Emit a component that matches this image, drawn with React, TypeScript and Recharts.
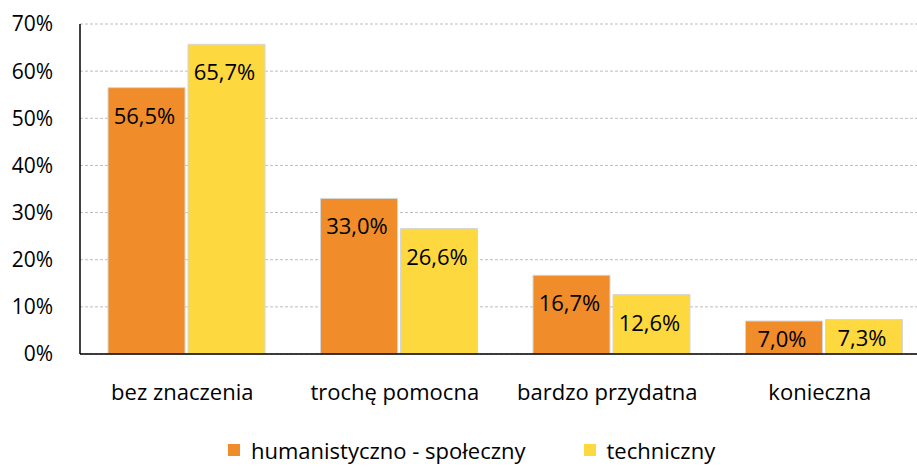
import { BarChart, Bar, XAxis, YAxis, CartesianGrid, Legend, LabelList } from 'recharts';

// Values
const categories = ['bez znaczenia', 'trochę pomocna', 'bardzo przydatna', 'konieczna'];
const humanistyczno = [56.5, 33.0, 16.7, 7.0];
const techniczny = [65.7, 26.6, 12.6, 7.3];
const yTicks = [0, 10, 20, 30, 40, 50, 60, 70];

const seriesNames = ['humanistyczno - społeczny', 'techniczny'];
const colors = ['#F08C2A', '#FDD93F'];

const data = categories.map((name, i) => ({
  name,
  hum: humanistyczno[i],
  tech: techniczny[i],
}));

const FONT = '"Open Sans", sans-serif';

const fmt = (v: number) => v.toFixed(1).replace('.', ',') + '%';

const BarLabel = (props: any) => {
  const { x, y, width, height, value } = props;
  const cy = y + Math.min(27, height / 2);
  return (
    <text
      x={x + width / 2 - 2}
      y={cy}
      textAnchor="middle"
      dominantBaseline="central"
      fontSize={22}
      fontFamily={FONT}
      fill="#000"
    >
      {fmt(value)}
    </text>
  );
};

const LegendContent = () => (
  <div style={{ display: 'flex', alignItems: 'center', paddingLeft: 228, fontFamily: FONT, fontSize: 22, lineHeight: '26px', color: '#000' }}>
    {seriesNames.map((n, i) => (
      <div key={n} style={{ display: 'flex', alignItems: 'center', marginRight: 58 }}>
        <span style={{ display: 'inline-block', width: 12, height: 12, background: colors[i], marginRight: 11 }} />
        <span>{n}</span>
      </div>
    ))}
  </div>
);

const App = () => {
  return (
    <div style={{ position: 'absolute', left: 0, top: 0, width: 917, height: 467, overflow: 'hidden', background: '#fff' }}>
      <BarChart
        width={930}
        height={467}
        data={data}
        margin={{ top: 24, right: 0, left: 0, bottom: 0 }}
        barGap={3}
        barSize={77}
      >
        <CartesianGrid vertical={false} stroke="#bdbdbd" strokeDasharray="3 2" />
        <XAxis
          dataKey="name"
          height={83}
          tickLine={false}
          tickSize={0}
          tickMargin={30}
          axisLine={{ stroke: '#000', strokeWidth: 1.5 }}
          tick={{ fontSize: 22, fill: '#000', fontFamily: FONT, dx: -4 }}
        />
        <YAxis
          width={80}
          domain={[0, 70]}
          ticks={yTicks}
          interval={0}
          tickFormatter={(v: number) => v + '%'}
          tickLine={false}
          tickSize={0}
          tickMargin={27}
          axisLine={{ stroke: '#000', strokeWidth: 1.5 }}
          tick={{ fontSize: 21, fill: '#000', fontFamily: FONT }}
        />
        <Legend verticalAlign="bottom" height={30} content={<LegendContent />} wrapperStyle={{ left: 0, width: 917 }} />
        <Bar dataKey="hum" name={seriesNames[0]} fill={colors[0]} stroke="#d6d6d6" strokeWidth={1} isAnimationActive={false}>
          <LabelList dataKey="hum" content={<BarLabel />} />
        </Bar>
        <Bar dataKey="tech" name={seriesNames[1]} fill={colors[1]} stroke="#d6d6d6" strokeWidth={1} isAnimationActive={false}>
          <LabelList dataKey="tech" content={<BarLabel />} />
        </Bar>
      </BarChart>
    </div>
  );
};

export default App;
